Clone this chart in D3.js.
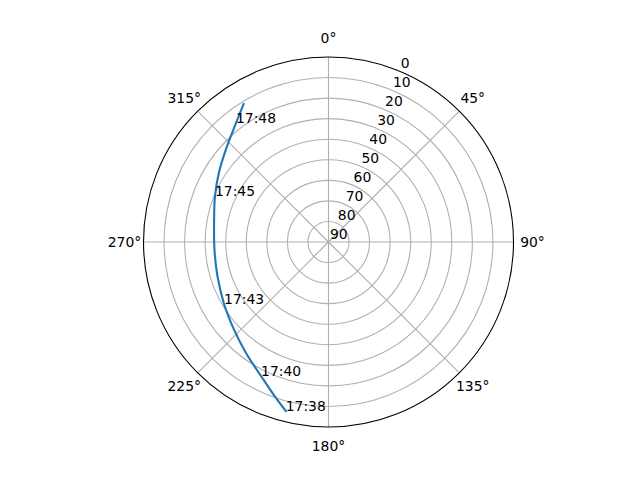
<!DOCTYPE html>
<html><head><meta charset="utf-8">
<script src="https://cdn.jsdelivr.net/npm/d3@7"></script>
<style>body{margin:0;background:#fff}svg{display:block}text{font-family:"DejaVu Sans",sans-serif;font-size:13.9px;fill:#000}</style>
</head><body>
<svg id="c" width="640" height="480"></svg>
<script>
// pass track: time, azimuth (deg, clockwise from N), elevation (deg)
const times = ["17:38","17:39","17:40","17:41","17:42","17:43","17:43:30","17:44","17:44:30","17:45","17:46","17:47","17:48","17:48:50"];
const azimuth = [194.2,199.8,206.7,216.4,227.4,239.3,253.0,266.0,279.9,292.1,302.6,312.2,322.1,328.4];
const elevation = [5.2,11.1,17.0,22.6,27.4,30.9,33.5,34.4,33.5,30.4,26.8,22.7,16.7,11.2];
const labelTimes = ["17:38","17:40","17:43","17:45","17:48"];
const radialTicks = [0,10,20,30,40,50,60,70,80,90];
const angleTicks = [0,45,90,135,180,225,270,315];

const cx = 328.5, cy = 242, R = 185;
const svg = d3.select("#c");
const g = svg.append("g").attr("transform", `translate(${cx},${cy})`);
const r = d3.scaleLinear().domain([90, 0]).range([0, R]);
const toRad = d => d * Math.PI / 180;
const px = (az, el) => [r(el) * Math.sin(toRad(az)), -r(el) * Math.cos(toRad(az))];

// rings
g.selectAll("circle.ring").data(radialTicks.filter(t => t > 0 && t < 90)).enter()
  .append("circle").attr("r", d => r(d)).attr("fill", "none")
  .attr("stroke", "#b0b0b0").attr("stroke-width", 1.1);
// spokes
g.selectAll("line.spoke").data(angleTicks).enter().append("line")
  .attr("x1", 0).attr("y1", 0)
  .attr("x2", d => px(d, 0)[0]).attr("y2", d => px(d, 0)[1])
  .attr("stroke", "#b0b0b0").attr("stroke-width", 1.1);
// outer spine
g.append("circle").attr("r", R).attr("fill", "none").attr("stroke", "#000").attr("stroke-width", 1.1);

// track
const pts = times.map((t, i) => ({t, az: azimuth[i], el: elevation[i]}));
const line = d3.lineRadial().angle(d => toRad(d.az)).radius(d => r(d.el)).curve(d3.curveCatmullRom.alpha(0.5));
g.append("path").attr("d", line(pts)).attr("fill", "none")
  .attr("stroke", "#1f77b4").attr("stroke-width", 2.1).attr("stroke-linecap", "square");

// time labels
g.selectAll("text.tl").data(pts.filter(p => labelTimes.includes(p.t))).enter().append("text")
  .attr("x", d => px(d.az, d.el)[0]).attr("y", d => px(d.az, d.el)[1])
  .attr("text-anchor", "start").text(d => d.t);

// radial labels at 22.5 deg
g.selectAll("text.rl").data(radialTicks).enter().append("text")
  .attr("x", d => px(22.5, d)[0] + 1.5).attr("y", d => px(22.5, d)[1] - 3)
  .attr("text-anchor", "start").text(d => d);

// angle labels
g.selectAll("text.al").data(angleTicks).enter().append("text")
  .attr("x", d => (R + 19) * Math.sin(toRad(d)))
  .attr("y", d => -(R + 19) * Math.cos(toRad(d)))
  .attr("text-anchor", "middle").attr("dominant-baseline", "central")
  .text(d => d + "°");
</script>
</body></html>
